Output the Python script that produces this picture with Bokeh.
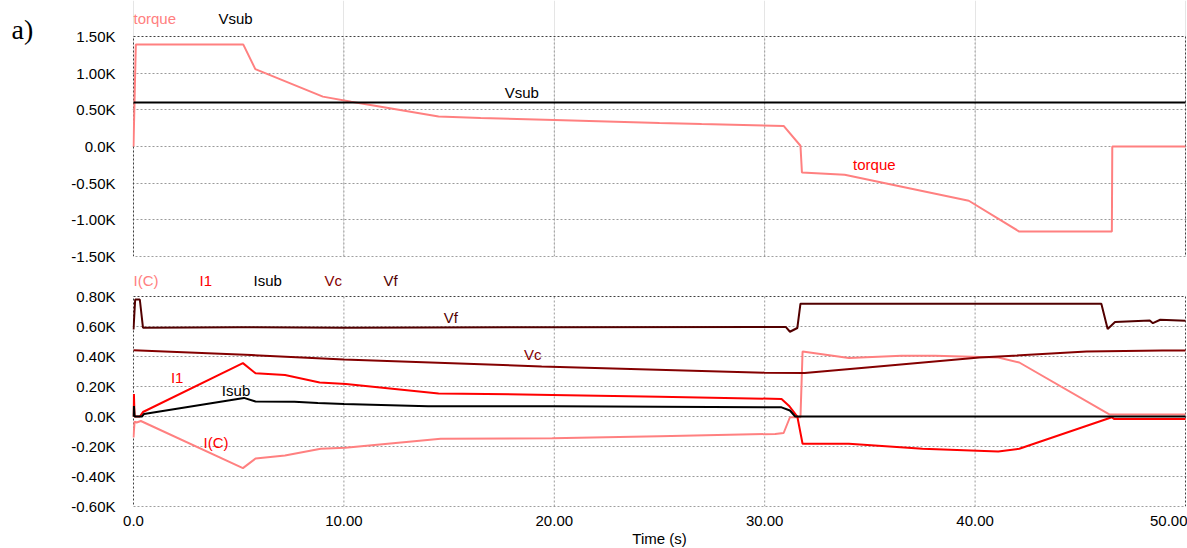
from bokeh.plotting import figure
from bokeh.layouts import column
from bokeh.models import FixedTicker, Label, Range1d
from bokeh.embed import file_html
from bokeh.resources import INLINE

FONT = "Liberation Sans"

# ---- upper panel: torque and Vsub ----
torque_t = [0, 0.11, 5.22, 5.79, 9.0, 10.35, 14.5, 16.5, 20, 25, 27, 30.9, 31.7, 31.77,
            33.8, 39.7, 42.1, 46.5, 46.52, 50]
torque = [0, 1390, 1390, 1055, 680, 610, 410, 390, 362, 321, 306, 280, 10, -354,
          -386, -740, -1160, -1160, 0, 0]
vsub_t = [0, 50]
vsub = [600, 600]

# ---- lower panel: I(C), I1, Isub, Vc, Vf ----
ic_t = [0, 0.05, 0.15, 0.35, 5.2, 5.8, 7.2, 8.9, 10.07, 14.6, 19.9, 25, 30.5, 30.9,
        31.2, 31.7, 31.8, 34.0, 36.5, 38.1, 41.1, 42.1, 46.4, 50]
ic = [-140, -34, -40, -30, -344, -280, -260, -215, -209, -149, -145, -131, -116, -110,
      -5, -5, 433, 390, 405, 405, 393, 360, 13, 13]

i1_t = [0, 0.02, 0.05, 0.3, 0.45, 5.2, 5.8, 7.2, 8.85, 10.1, 14.5, 19.9, 25, 30.8,
        31.15, 31.55, 31.8, 34.0, 37.5, 41.1, 42.1, 46.5, 46.6, 50]
i1 = [0, 150, 0, 0, 30, 356, 288, 276, 227, 217, 154, 144, 131, 117,
      72, 0, -182, -182, -215, -233, -215, -5, -16, -16]

isub_t = [0, 0.02, 0.05, 0.4, 0.5, 5.25, 5.8, 7.65, 8.76, 10, 14, 19.9, 30.8, 31.2, 31.45, 50]
isub = [0, 70, 0, 0, 17, 124, 100, 99, 90, 84, 68, 68, 61, 40, 0, 0]

vc_t = [0, 5.6, 10, 19.4, 30, 31.9, 35, 40.2, 45.3, 48.9, 50]
vc = [442, 410, 380, 334, 292, 290, 329, 393, 433, 440, 440]

vf_t = [0, 0.08, 0.3, 0.45, 5, 10, 20, 30, 31.0, 31.2, 31.55, 31.7, 46.0, 46.3, 46.65,
        48.3, 48.45, 48.8, 50]
vf = [580, 780, 780, 592, 595, 592, 595, 597, 597, 565, 590, 752, 752, 584, 630,
      640, 622, 645, 638]

# axis ticks
time_ticks = [0, 10, 20, 30, 40, 50]
time_labels = ["0.0", "10.00", "20.00", "30.00", "40.00", "50.00"]
top_ticks = [-1500, -1000, -500, 0, 500, 1000, 1500]
top_labels = ["-1.50K", "-1.00K", "-0.50K", "0.0K", "0.50K", "1.00K", "1.50K"]
bot_ticks = [-600, -400, -200, 0, 200, 400, 600, 800]
bot_labels = ["-0.60K", "-0.40K", "-0.20K", "0.0K", "0.20K", "0.40K", "0.60K", "0.80K"]

LIGHT_RED = "#ff8080"
RED = "#ff0000"
MAROON = "#840000"
DARK = "#520000"
BLACK = "#000000"
GRID = "#9a9a9a"
BORDER = "#404040"
DASH = "2 2"

# Each panel's plotting area also holds its header row of trace names, so the
# value range is stretched upward by the header height (in pixels).
TOP_BOX_PX, TOP_HEAD_PX = 220, 36
BOT_BOX_PX, BOT_HEAD_PX = 210, 30
top_lo, top_hi = top_ticks[0], top_ticks[-1]
bot_lo, bot_hi = bot_ticks[0], bot_ticks[-1]
top_end = top_hi + TOP_HEAD_PX * (top_hi - top_lo) / TOP_BOX_PX
bot_end = bot_hi + BOT_HEAD_PX * (bot_hi - bot_lo) / BOT_BOX_PX

# one spare pixel on each side so the dotted box edges are not cut
BOX_W_PX = 1052
t0, t1 = time_ticks[0], time_ticks[-1]
pad = (t1 - t0) / BOX_W_PX
x_range = Range1d(t0 - pad, t1 + pad)


def style(p, yticks, ylabels):
    p.outline_line_color = None
    p.background_fill_color = "white"
    p.border_fill_color = "white"
    ax = p.yaxis[0]
    ax.ticker = FixedTicker(ticks=yticks)
    ax.major_label_overrides = {t: s for t, s in zip(yticks, ylabels)}
    ax.axis_line_color = None
    ax.major_tick_line_color = None
    ax.minor_tick_line_color = None
    ax.major_tick_out = 0
    ax.major_tick_in = 0
    ax.major_label_standoff = 17
    ax.major_label_text_font = FONT
    ax.major_label_text_font_size = "15px"
    ax.major_label_text_color = BLACK
    p.ygrid.ticker = FixedTicker(ticks=yticks[1:-1])
    p.ygrid.grid_line_color = GRID
    p.ygrid.grid_line_dash = DASH

    lo, hi = yticks[0], yticks[-1]
    # vertical grid lines, kept inside the box
    inner = time_ticks[1:-1]
    p.segment(x0=inner, y0=[lo] * len(inner), x1=inner, y1=[hi] * len(inner),
              line_color=GRID, line_dash=DASH, line_width=1)
    # dotted box around the data area
    p.quad(left=[t0], right=[t1], bottom=[lo], top=[hi], fill_color=None,
           line_color=BORDER, line_dash=DASH, line_width=1)


def make_label(text, x, y, color, units="data", size="15px", font=FONT, align="left"):
    return Label(x=x, y=y, x_units=units, y_units=units, text=text,
                 text_color=color, text_font=font, text_font_size=size,
                 text_align=align, text_baseline="middle")


def add_inline(p, text, x, y, color):
    p.add_layout(make_label(text, x, y, color))


def add_header(p, text, x, y, color):
    # offsets in pixels from the lower-left corner of the plotting area
    p.add_layout(make_label(text, x, y, color, units="screen"))


# upper panel
p1 = figure(width=1187, height=266, x_range=x_range, y_range=Range1d(top_lo, top_end),
            output_backend="svg", toolbar_location=None, x_axis_location=None,
            min_border_left=132, min_border_right=1, min_border_top=0,
            min_border_bottom=10)
style(p1, top_ticks, top_labels)
p1.line(torque_t, torque, line_color=LIGHT_RED, line_width=2)
p1.line(vsub_t, vsub, line_color=BLACK, line_width=2)

p1.add_layout(make_label("a)", -35, 227, BLACK, units="screen", size="28px",
                         font="Liberation Serif"), "left")
add_header(p1, "torque", 1, 238, LIGHT_RED)
add_header(p1, "Vsub", 86, 238, BLACK)
add_inline(p1, "Vsub", 17.64, 730, BLACK)
add_inline(p1, "torque", 34.2, -250, RED)

# lower panel
p2 = figure(width=1187, height=282, x_range=x_range, y_range=Range1d(bot_lo, bot_end),
            output_backend="svg", toolbar_location=None,
            min_border_left=132, min_border_right=1, min_border_top=0,
            min_border_bottom=42)
style(p2, bot_ticks, bot_labels)
xa = p2.xaxis[0]
xa.ticker = FixedTicker(ticks=time_ticks)
xa.major_label_overrides = {t: s for t, s in zip(time_ticks, time_labels)}
xa.axis_line_color = None
xa.major_tick_line_color = None
xa.minor_tick_line_color = None
xa.major_tick_out = 0
xa.major_tick_in = 0
xa.major_label_standoff = 9
xa.major_label_text_font = FONT
xa.major_label_text_font_size = "15px"
xa.major_label_text_color = BLACK
p2.xgrid.visible = False

# time-axis title, placed in the side panel so the axis itself stays compact
p2.add_layout(make_label("Time (s)", 645, -32, BLACK, units="screen", align="center"), "left")

p2.line(ic_t, ic, line_color=LIGHT_RED, line_width=2)
p2.line(vc_t, vc, line_color=MAROON, line_width=2)
p2.line(vf_t, vf, line_color=DARK, line_width=2)
p2.line(i1_t, i1, line_color=RED, line_width=2)
p2.line(isub_t, isub, line_color=BLACK, line_width=2)

add_header(p2, "I(C)", 1, 226, LIGHT_RED)
add_header(p2, "I1", 67, 226, RED)
add_header(p2, "Isub", 121, 226, BLACK)
add_header(p2, "Vc", 192, 226, MAROON)
add_header(p2, "Vf", 251, 226, DARK)

add_inline(p2, "Vf", 14.74, 657, DARK)
add_inline(p2, "Vc", 18.56, 411, MAROON)
add_inline(p2, "I1", 1.78, 260, RED)
add_inline(p2, "Isub", 4.2, 172, BLACK)
add_inline(p2, "I(C)", 3.33, -175, RED)

layout = column(p1, p2, spacing=0)
open("out.html", "w").write(file_html(layout, INLINE))
